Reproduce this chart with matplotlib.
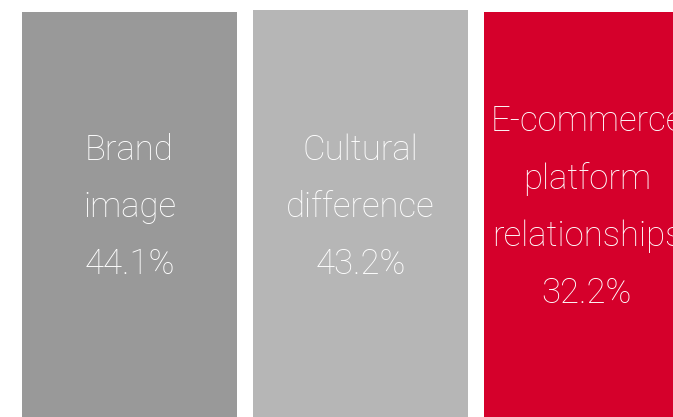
import matplotlib
matplotlib.use("Agg")
import matplotlib.pyplot as plt

categories = ["Brand\nimage", "Cultural\ndifference", "E-commerce\nplatform\nrelationships"]
values = [44.1, 43.2, 32.2]
colors = ["#999999", "#b6b6b6", "#d5002b"]
tops = [0.972, 0.977, 0.972]

fig = plt.figure(figsize=(6.73, 4.17), dpi=100)
ax = fig.add_axes([0, 0, 1, 1])
x = list(range(len(categories)))
ax.bar(x, tops, width=0.93, color=colors, edgecolor="none")
ax.set_xlim(-0.5606, 2.353)
ax.set_ylim(0, 1)
ax.axis("off")

for xi, cat, v in zip(x, categories, values):
    ax.text(xi - (0.02 if xi == 2 else 0), 0.503, f"{cat}\n{v:.1f}%", ha="center", va="center",
            color="white", fontsize=25, family="Roboto", fontweight="light",
            linespacing=1.88, transform=ax.get_xaxis_transform(), clip_on=True)

fig.savefig("out.png", dpi=100)
